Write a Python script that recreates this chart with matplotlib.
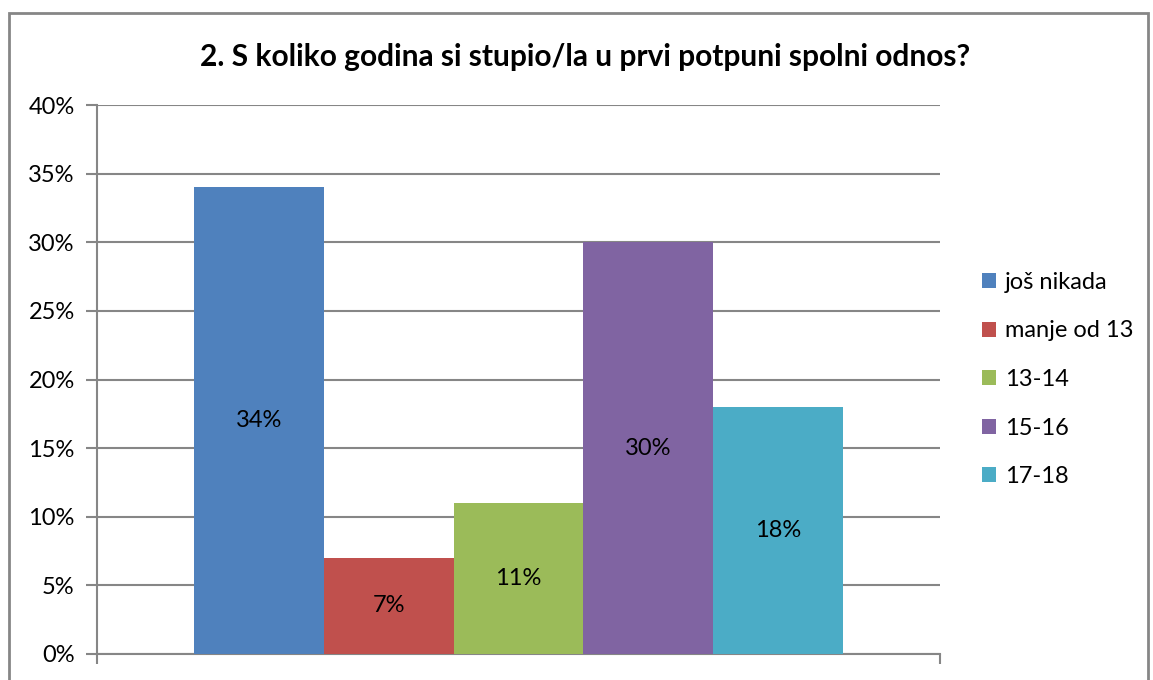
import matplotlib.pyplot as plt
from matplotlib.patches import Rectangle

categories = ['još nikada', 'manje od 13', '13-14', '15-16', '17-18']
values = [34, 7, 11, 30, 18]
colors = ['#4F81BD', '#C0504D', '#9BBB59', '#8064A2', '#4BACC6']
yticks = [0, 5, 10, 15, 20, 25, 30, 35, 40]

plt.rcParams['font.family'] = ['Lato', 'DejaVu Sans']
grid_col = '#868686'

fig = plt.figure(figsize=(11.53, 6.80), dpi=100)
ax = fig.add_axes([97 / 1153, 26 / 680, 843 / 1153, 549 / 680])

# chart border
fig.patches.append(Rectangle((9 / 1153, -0.05), 1139 / 1153, 1.05 - 13 / 680,
                             transform=fig.transFigure, fill=False,
                             edgecolor=grid_col, linewidth=2))

for i, (cat, val, col) in enumerate(zip(categories, values, colors)):
    x = 0.75 + i + 0.5
    ax.bar(x, val, width=1.0, color=col, label=cat, zorder=3)
    ax.text(x, val / 2, f'{val}%', ha='center', va='center', fontsize=17,
            color='black', zorder=4)

ax.set_xlim(0, 6.5)
ax.set_ylim(0, 40)
ax.set_yticks(yticks)
ax.set_yticklabels([f'{t}%' for t in yticks], fontsize=17)
ax.yaxis.grid(True, color=grid_col, linewidth=1.5, zorder=0)
ax.set_xticks([0, 6.5])
ax.set_xticklabels([])
ax.tick_params(axis='y', length=8, width=1.5, color=grid_col, pad=8)
ax.tick_params(axis='x', length=7, width=1.5, color=grid_col)
for side in ['top', 'right']:
    ax.spines[side].set_visible(False)
for side in ['left', 'bottom']:
    ax.spines[side].set_color(grid_col)
    ax.spines[side].set_linewidth(1.5)

fig.text(0.507, 0.916, '2. S koliko godina si stupio/la u prvi potpuni spolni odnos?',
         ha='center', va='center', fontsize=21.5, fontweight='bold')

leg = ax.legend(loc='center left', bbox_to_anchor=(1.025, 0.5), frameon=False,
                fontsize=17, handlelength=0.6, handleheight=0.6,
                handletextpad=0.35, labelspacing=1.17)

fig.savefig('out.png', dpi=100)
